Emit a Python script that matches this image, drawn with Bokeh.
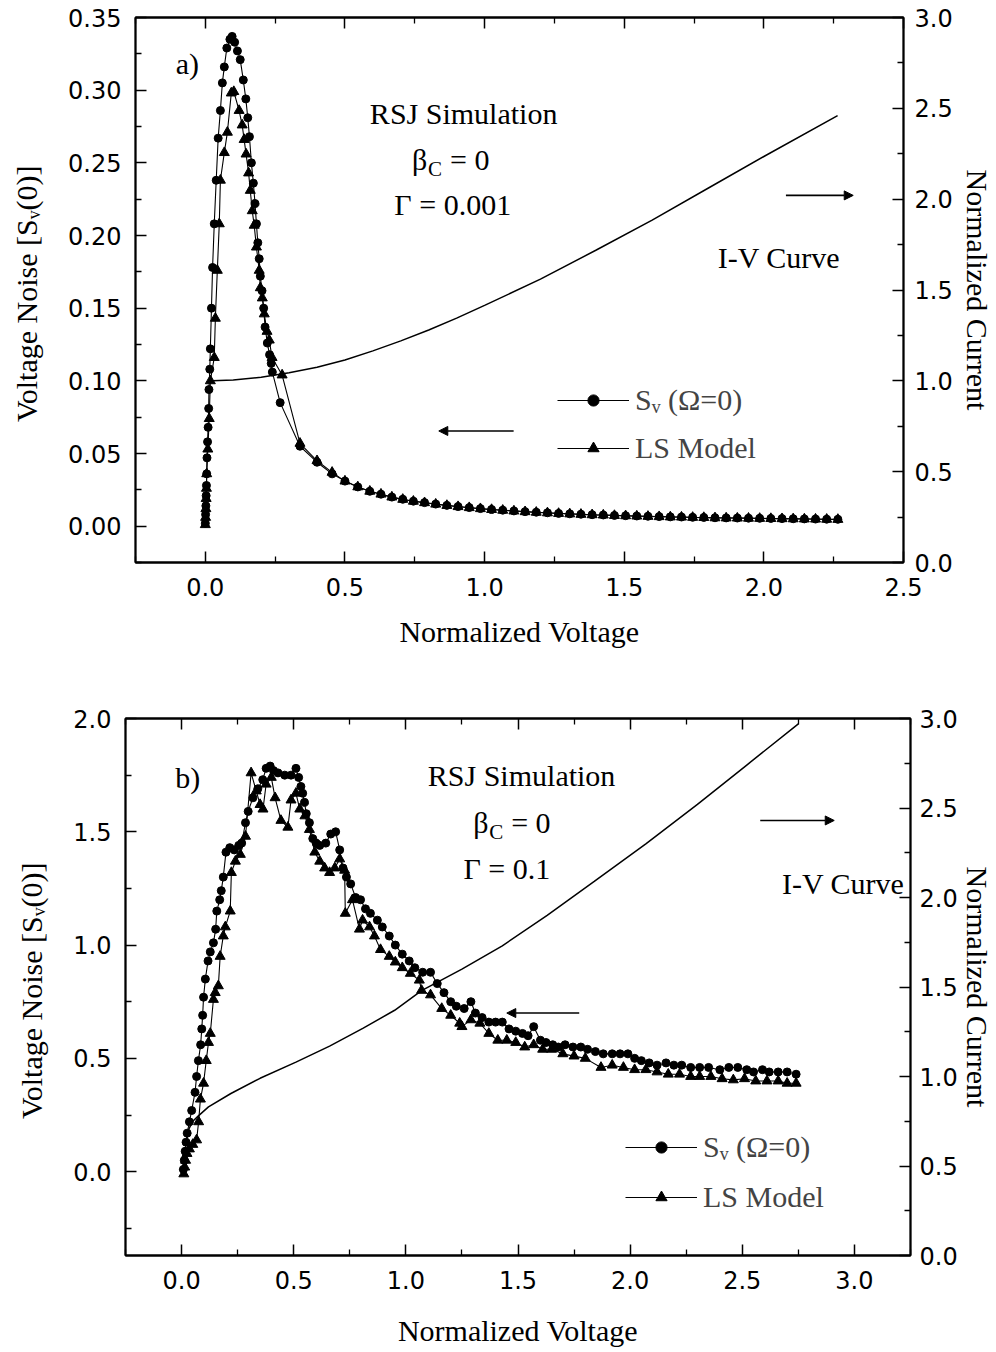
import numpy as np
from bokeh.plotting import figure
from bokeh.models import (Range1d, LinearAxis, FixedTicker, PrintfTickFormatter, Label,
                          Arrow, NormalHead, Legend, LegendItem)
from bokeh.layouts import column
from bokeh.embed import file_html
from bokeh.resources import INLINE

# ---------------- Panel a data (Gamma = 0.001) ----------------
a_sv_x = [0.000, 0.001, 0.002, 0.003, 0.004, 0.005, 0.006, 0.008, 0.010, 0.012, 0.013, 0.016, 0.018,
          0.022, 0.026, 0.032, 0.039, 0.046, 0.054, 0.061, 0.068, 0.077, 0.088, 0.096, 0.105, 0.115,
          0.125, 0.136, 0.145, 0.152, 0.158, 0.165, 0.172, 0.178, 0.183, 0.188, 0.193, 0.197, 0.203,
          0.209, 0.214, 0.222, 0.230, 0.236, 0.240, 0.268, 0.339, 0.400, 0.454, 0.500, 0.546, 0.589,
          0.629, 0.668, 0.707, 0.745, 0.785, 0.825, 0.865, 0.905, 0.945, 0.985, 1.025, 1.065, 1.105,
          1.145, 1.185, 1.225, 1.265, 1.305, 1.345, 1.385, 1.425, 1.465, 1.505, 1.545, 1.585, 1.625,
          1.665, 1.705, 1.745, 1.785, 1.825, 1.865, 1.905, 1.945, 1.985, 2.025, 2.065, 2.105, 2.145,
          2.185, 2.225, 2.265]
a_sv_y = [0.002, 0.008, 0.014, 0.021, 0.028, 0.036, 0.047, 0.058, 0.068, 0.081, 0.094, 0.108, 0.122,
          0.150, 0.178, 0.208, 0.238, 0.267, 0.286, 0.305, 0.316, 0.329, 0.335, 0.337, 0.333, 0.327,
          0.321, 0.307, 0.294, 0.281, 0.268, 0.250, 0.236, 0.222, 0.208, 0.195, 0.184, 0.172, 0.162,
          0.150, 0.137, 0.126, 0.118, 0.112, 0.106, 0.085, 0.055, 0.044, 0.036, 0.031, 0.027, 0.024,
          0.022, 0.020, 0.0185, 0.0172, 0.0162, 0.0152, 0.0143, 0.0135, 0.0128, 0.0121, 0.0115, 0.0110,
          0.0105, 0.0100, 0.0096, 0.0092, 0.0088, 0.0085, 0.0082, 0.0079, 0.0077, 0.0074, 0.0072, 0.0070,
          0.0068, 0.0066, 0.0064, 0.0063, 0.0061, 0.0060, 0.0058, 0.0057, 0.0056, 0.0055, 0.0054, 0.0053,
          0.0052, 0.0051, 0.0050, 0.0049, 0.0048, 0.0047]

a_ls_x = [0.000, 0.001, 0.002, 0.003, 0.004, 0.005, 0.009, 0.014, 0.018, 0.032, 0.036, 0.043, 0.050,
          0.054, 0.068, 0.079, 0.093, 0.102, 0.121, 0.132, 0.139, 0.146, 0.155, 0.161, 0.168, 0.175,
          0.183, 0.193, 0.197, 0.204, 0.211, 0.221, 0.229, 0.239, 0.275, 0.339, 0.400, 0.454, 0.500,
          0.546, 0.589, 0.629, 0.668, 0.707, 0.745, 0.785, 0.825, 0.865, 0.905, 0.945, 0.985, 1.025,
          1.065, 1.105, 1.145, 1.185, 1.225, 1.265, 1.305, 1.345, 1.385, 1.425, 1.465, 1.505, 1.545,
          1.585, 1.625, 1.665, 1.705, 1.745, 1.785, 1.825, 1.865, 1.905, 1.945, 1.985, 2.025, 2.065,
          2.105, 2.145, 2.185, 2.225, 2.265]
a_ls_y = [0.001, 0.006, 0.012, 0.019, 0.026, 0.036, 0.053, 0.074, 0.100, 0.116, 0.143, 0.176, 0.208,
          0.238, 0.257, 0.271, 0.298, 0.299, 0.286, 0.276, 0.266, 0.256, 0.243, 0.231, 0.217, 0.207,
          0.192, 0.176, 0.164, 0.157, 0.146, 0.134, 0.128, 0.116, 0.104, 0.057, 0.045, 0.037, 0.031,
          0.027, 0.024, 0.022, 0.020, 0.0184, 0.0171, 0.0161, 0.0151, 0.0142, 0.0134, 0.0127, 0.0120,
          0.0114, 0.0109, 0.0104, 0.0099, 0.0095, 0.0091, 0.0087, 0.0084, 0.0081, 0.0078, 0.0076, 0.0073,
          0.0071, 0.0069, 0.0067, 0.0065, 0.0063, 0.0062, 0.0060, 0.0059, 0.0057, 0.0056, 0.0055, 0.0054,
          0.0053, 0.0052, 0.0051, 0.0050, 0.0049, 0.0048, 0.0047, 0.0046]

a_iv_v = [0.025, 0.10, 0.20, 0.30, 0.40, 0.50, 0.60, 0.70, 0.80, 0.90, 1.00, 1.20, 1.40, 1.60,
          1.80, 2.00, 2.264]
a_iv_i = [1.00, 1.005, 1.02, 1.045, 1.075, 1.115, 1.165, 1.22, 1.28, 1.345, 1.415, 1.56, 1.72,
          1.885, 2.06, 2.235, 2.46]

# ---------------- Panel b data (Gamma = 0.1) ----------------
b_sv_x = [0.008, 0.012, 0.016, 0.020, 0.025, 0.035, 0.045, 0.060, 0.067, 0.075, 0.085, 0.090, 0.094,
          0.098, 0.106, 0.118, 0.128, 0.142, 0.152, 0.157, 0.170, 0.177, 0.186, 0.198, 0.215, 0.235,
          0.255, 0.268, 0.285, 0.297, 0.318, 0.340, 0.362, 0.377, 0.395, 0.410, 0.430, 0.460, 0.488,
          0.510, 0.522, 0.532, 0.540, 0.548, 0.556, 0.570, 0.585, 0.600, 0.616, 0.643, 0.665, 0.687,
          0.705, 0.720, 0.735, 0.754, 0.776, 0.798, 0.820, 0.842, 0.873, 0.895, 0.926, 0.953, 0.984,
          1.015, 1.040, 1.075, 1.110, 1.140, 1.170, 1.200, 1.225, 1.260, 1.290, 1.310, 1.340, 1.370,
          1.400, 1.430, 1.460, 1.490, 1.520, 1.545, 1.570, 1.600, 1.625, 1.655, 1.680, 1.710, 1.745,
          1.780, 1.810, 1.845, 1.880, 1.920, 1.955, 1.990, 2.020, 2.050, 2.085, 2.120, 2.160, 2.195,
          2.230, 2.270, 2.310, 2.350, 2.400, 2.440, 2.480, 2.520, 2.550, 2.590, 2.620, 2.660, 2.700,
          2.740]
b_sv_y = [0.01, 0.05, 0.09, 0.13, 0.17, 0.22, 0.27, 0.35, 0.42, 0.49, 0.56, 0.63, 0.69,
          0.77, 0.85, 0.93, 0.97, 1.01, 1.07, 1.15, 1.20, 1.24, 1.30, 1.41, 1.43, 1.42,
          1.44, 1.45, 1.54, 1.59, 1.65, 1.69, 1.73, 1.78, 1.79, 1.77, 1.76, 1.75, 1.75,
          1.78, 1.74, 1.70, 1.67, 1.63, 1.58, 1.54, 1.47, 1.45, 1.44, 1.45, 1.49, 1.50,
          1.42, 1.34, 1.30, 1.27, 1.21, 1.20, 1.16, 1.14, 1.11, 1.08, 1.04, 1.00, 0.96,
          0.93, 0.90, 0.88, 0.88, 0.83, 0.79, 0.75, 0.73, 0.72, 0.75, 0.70, 0.68, 0.66,
          0.66, 0.66, 0.63, 0.62, 0.61, 0.60, 0.64, 0.58, 0.57, 0.56, 0.55, 0.56, 0.55,
          0.55, 0.54, 0.53, 0.52, 0.52, 0.52, 0.52, 0.50, 0.49, 0.48, 0.47, 0.48, 0.47,
          0.47, 0.46, 0.46, 0.46, 0.45, 0.46, 0.46, 0.45, 0.44, 0.45, 0.44, 0.44, 0.44,
          0.43]

b_ls_x = [0.010, 0.014, 0.018, 0.024, 0.035, 0.050, 0.067, 0.076, 0.084, 0.098, 0.110, 0.120, 0.128,
          0.142, 0.150, 0.164, 0.172, 0.186, 0.195, 0.217, 0.222, 0.240, 0.262, 0.285, 0.310, 0.333,
          0.350, 0.363, 0.377, 0.400, 0.417, 0.443, 0.474, 0.488, 0.510, 0.527, 0.550, 0.570, 0.594,
          0.616, 0.638, 0.660, 0.683, 0.705, 0.727, 0.730, 0.762, 0.793, 0.807, 0.838, 0.860, 0.887,
          0.926, 0.953, 0.984, 1.020, 1.060, 1.070, 1.110, 1.160, 1.200, 1.240, 1.250, 1.290, 1.330,
          1.370, 1.410, 1.450, 1.490, 1.530, 1.570, 1.610, 1.650, 1.700, 1.750, 1.800, 1.870, 1.920,
          1.970, 2.020, 2.070, 2.120, 2.170, 2.220, 2.270, 2.310, 2.360, 2.410, 2.460, 2.510, 2.560,
          2.610, 2.660, 2.700, 2.740]
b_ls_y = [-0.01, 0.02, 0.05, 0.08, 0.10, 0.12, 0.14, 0.22, 0.32, 0.39, 0.49, 0.57, 0.61,
          0.76, 0.79, 0.82, 0.95, 1.04, 1.08, 1.15, 1.32, 1.37, 1.40, 1.48, 1.76, 1.68,
          1.62, 1.60, 1.71, 1.74, 1.65, 1.55, 1.52, 1.64, 1.67, 1.60, 1.57, 1.51, 1.41,
          1.37, 1.34, 1.32, 1.34, 1.38, 1.33, 1.14, 1.20, 1.07, 1.11, 1.08, 1.04, 0.98,
          0.95, 0.925, 0.90, 0.875, 0.845, 0.80, 0.78, 0.72, 0.69, 0.655, 0.64, 0.67, 0.655,
          0.61, 0.58, 0.58, 0.57, 0.55, 0.56, 0.54, 0.54, 0.52, 0.51, 0.50, 0.46, 0.47,
          0.46, 0.45, 0.45, 0.44, 0.43, 0.43, 0.42, 0.42, 0.42, 0.41, 0.405, 0.41, 0.40,
          0.40, 0.40, 0.39, 0.39]

b_iv_v = [0.020, 0.030, 0.050, 0.075, 0.12, 0.22, 0.35, 0.51, 0.66, 0.81, 0.95, 1.07, 1.25,
          1.43, 1.63, 1.84, 2.07, 2.30, 2.52, 2.75]
b_iv_i = [0.62, 0.70, 0.75, 0.78, 0.83, 0.905, 0.99, 1.08, 1.17, 1.27, 1.37, 1.48, 1.60,
          1.73, 1.90, 2.09, 2.30, 2.52, 2.74, 2.97]

SERIF = "Liberation Serif"
SANS = "DejaVu Sans"
TICK_FS = "24px"
TITLE_FS = "30px"


def style_axis(ax, ticks, minor, fmt, label_standoff=14):
    ax.ticker = FixedTicker(ticks=ticks, minor_ticks=minor)
    ax.formatter = PrintfTickFormatter(format=fmt)
    ax.major_tick_in = 11
    ax.major_tick_out = 0
    ax.minor_tick_in = 6
    ax.minor_tick_out = 0
    ax.major_tick_line_width = 1.5
    ax.minor_tick_line_width = 1.3
    ax.axis_line_width = 1.8
    ax.major_label_text_font = SANS
    ax.major_label_text_font_size = TICK_FS
    ax.major_label_text_color = "black"
    ax.major_label_standoff = label_standoff
    ax.axis_label_text_font = SERIF
    ax.axis_label_text_font_size = TITLE_FS
    ax.axis_label_text_font_style = "normal"
    ax.axis_label_text_color = "black"


def make_panel(xr, yr, cr, xt, xm, yt, ym, yfmt, ct, cm, borders, height, xlab_standoff,
               r_std, r_lab_std):
    p = figure(width=996, height=height, x_range=Range1d(*xr), y_range=Range1d(*yr),
               output_backend="svg", toolbar_location=None,
               min_border_left=borders[0], min_border_right=borders[1],
               min_border_top=borders[2], min_border_bottom=borders[3])
    if "frame_align" in p.properties():
        p.frame_align = False
    p.extra_y_ranges = {"cur": Range1d(*cr)}
    p.grid.visible = False
    p.outline_line_color = "black"
    p.outline_line_width = 1.8
    p.background_fill_color = "white"
    p.border_fill_color = "white"

    style_axis(p.xaxis[0], xt, xm, "%.1f", 15)
    p.xaxis[0].axis_label = "Normalized Voltage"
    p.xaxis[0].axis_label_standoff = xlab_standoff
    style_axis(p.yaxis[0], yt, ym, yfmt, 14)
    p.yaxis[0].axis_label = "Voltage Noise  [S\u1d65(0)]"
    p.yaxis[0].axis_label_standoff = 22

    # mirrored ticks on the top edge, without labels
    top = LinearAxis()
    style_axis(top, xt, xm, "%.1f", 0)
    top.major_label_text_font_size = "1px"
    top.major_label_text_color = None
    p.add_layout(top, "above")

    right = LinearAxis(y_range_name="cur", axis_label="Normalized Current")
    style_axis(right, ct, cm, "%.1f", r_std)
    right.axis_label_standoff = r_lab_std
    p.add_layout(right, "right")
    return p


def add_series(p, x, y, marker, size):
    ln = p.line(x, y, line_color="black", line_width=1.1)
    sc = p.scatter(x, y, marker=marker, size=size, fill_color="black", line_color="black")
    return ln, sc


def txt(p, x, y, t, size=TITLE_FS, align="center", xo=0, yo=0):
    p.add_layout(Label(x=x, y=y, text=t, text_font=SERIF, text_font_size=size,
                       text_align=align, text_baseline="middle", text_color="black",
                       x_offset=xo, y_offset=yo))


def beta(p, x, y):
    txt(p, x, y, "\u03b2", align="left")
    txt(p, x, y, "C", size="21px", align="left", xo=16, yo=-9)
    txt(p, x, y, "= 0", align="left", xo=38)


def arrow(p, x0, y0, x1, y1):
    p.add_layout(Arrow(end=NormalHead(size=9, fill_color="black", line_color="black"),
                       x_start=x0, y_start=y0, x_end=x1, y_end=y1,
                       line_color="black", line_width=1.6))


def legend(p, items, loc, spacing):
    lg = Legend(items=items, location=loc, border_line_color=None, background_fill_alpha=0,
                label_text_font=SERIF, label_text_font_size=TITLE_FS, glyph_width=72,
                glyph_height=28, label_height=28, spacing=spacing, padding=0, margin=0,
                label_standoff=6)
    p.add_layout(lg)


# ---------------- Panel a ----------------
pa = make_panel((-0.25, 2.5), (-0.025, 0.35), (0.0, 3.0),
                [0, 0.5, 1.0, 1.5, 2.0, 2.5], [-0.25, 0.25, 0.75, 1.25, 1.75, 2.25],
                [0, 0.05, 0.10, 0.15, 0.20, 0.25, 0.30, 0.35],
                [-0.025, 0.025, 0.075, 0.125, 0.175, 0.225, 0.275, 0.325], "%.2f",
                [0, 0.5, 1.0, 1.5, 2.0, 2.5, 3.0], [0.25, 0.75, 1.25, 1.75, 2.25, 2.75],
                (135, 90, 17, 114), 676, 16, 11, 5)
pa.line(a_iv_v, a_iv_i, y_range_name="cur", line_color="black", line_width=1.5)
la1, sa1 = add_series(pa, a_sv_x, a_sv_y, "circle", 8)
la2, sa2 = add_series(pa, a_ls_x, a_ls_y, "triangle", 10)
legend(pa, [LegendItem(label="S\u1d65 (\u03a9=0)", renderers=[la1, sa1]),
            LegendItem(label="LS Model", renderers=[la2, sa2])], (422, 97), 14)
txt(pa, -0.064, 0.3186, "a)")
txt(pa, 0.925, 0.284, "RSJ Simulation")
beta(pa, 0.74, 0.252)
txt(pa, 0.886, 0.221, "\u0393 = 0.001")
txt(pa, 2.054, 0.185, "I-V Curve")
arrow(pa, 2.079, 0.2276, 2.32, 0.2276)
arrow(pa, 1.104, 0.0655, 0.836, 0.0655)

# ---------------- Panel b ----------------
pb = make_panel((-0.25, 3.25), (-0.37, 2.0), (0.0, 3.0),
                [0, 0.5, 1.0, 1.5, 2.0, 2.5, 3.0], [-0.25, 0.25, 0.75, 1.25, 1.75, 2.25, 2.75, 3.25],
                [0, 0.5, 1.0, 1.5, 2.0], [-0.25, 0.25, 0.75, 1.25, 1.75], "%.1f",
                [0, 0.5, 1.0, 1.5, 2.0, 2.5, 3.0], [0.25, 0.75, 1.25, 1.75, 2.25, 2.75],
                (125, 86, 42, 97), 676, 22, 9, 0)
pb.line(b_iv_v, b_iv_i, y_range_name="cur", line_color="black", line_width=1.5)
lb1, sb1 = add_series(pb, b_sv_x, b_sv_y, "circle", 8)
lb2, sb2 = add_series(pb, b_ls_x, b_ls_y, "triangle", 10)
legend(pb, [LegendItem(label="S\u1d65 (\u03a9=0)", renderers=[lb1, sb1]),
            LegendItem(label="LS Model", renderers=[lb2, sb2])], (500, 41), 16)
txt(pb, 0.027, 1.74, "b)")
txt(pb, 1.516, 1.749, "RSJ Simulation")
beta(pb, 1.30, 1.54)
txt(pb, 1.45, 1.34, "\u0393 = 0.1")
txt(pb, 2.95, 1.27, "I-V Curve")
arrow(pb, 2.58, 1.55, 2.91, 1.55)
arrow(pb, 1.773, 0.70, 1.45, 0.70)

layout = column(pa, pb, spacing=0)
open("out.html", "w").write(file_html(layout, INLINE))
